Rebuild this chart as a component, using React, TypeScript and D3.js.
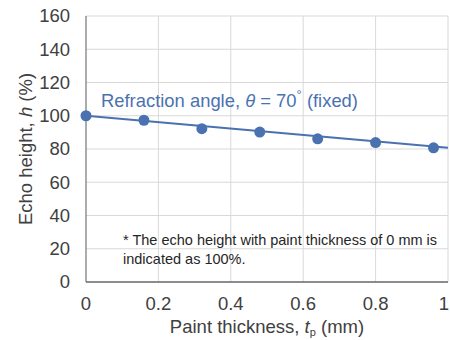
import React from "react";
import * as d3 from "d3";

// Paint thickness (mm) and relative echo height (%)
const thickness = [0, 0.16, 0.32, 0.48, 0.64, 0.8, 0.96];
const echoHeight = [100, 97.3, 92.2, 90.2, 86.1, 83.9, 80.7];
// Linear trend line endpoints (thickness, echo height)
const trendX = [0, 1];
const trendY = [100, 80.7];
const xTicks = [0, 0.2, 0.4, 0.6, 0.8, 1];
const yTicks = [0, 20, 40, 60, 80, 100, 120, 140, 160];

const W = 450;
const H = 340;
const margin = { left: 86, right: 2, top: 16, bottom: 58 };

const BLUE = "#4a72b0";
const FONT = "'Liberation Sans', Arial, sans-serif";
const FS = 18.5;

export default function App() {
  const x = d3.scaleLinear().domain([0, 1]).range([margin.left, W - margin.right]);
  const y = d3.scaleLinear().domain([0, 160]).range([H - margin.bottom, margin.top]);

  const line = d3
    .line<[number, number]>()
    .x((d) => x(d[0]))
    .y((d) => y(d[1]));
  const trend: [number, number][] = trendX.map((v, i) => [v, trendY[i]]);

  const x0 = x(0);
  const x1 = x(1);
  const y0 = y(0);
  const yTop = y(160);

  return (
    <svg
      width={W}
      height={H}
      style={{ position: "absolute", left: 0, top: 0, background: "#fff" }}
      fontFamily={FONT}
    >
      {/* gridlines */}
      {yTicks.filter((t) => t > 0).map((t) => (
        <line key={"gy" + t} x1={x0} x2={x1} y1={y(t)} y2={y(t)} stroke="#d9d9d9" strokeWidth={1} />
      ))}
      {xTicks.filter((t) => t > 0).map((t) => (
        <line key={"gx" + t} x1={x(t)} x2={x(t)} y1={yTop} y2={y0} stroke="#d9d9d9" strokeWidth={1} />
      ))}
      {/* axes */}
      <line x1={x0} x2={x0} y1={yTop} y2={y0} stroke="#7f7f7f" strokeWidth={1.3} />
      <line x1={x0} x2={x1} y1={y0} y2={y0} stroke="#666" strokeWidth={1.3} />

      {/* y tick labels */}
      {yTicks.map((t) => (
        <text key={"ty" + t} x={70} y={y(t)} dy="0.35em" textAnchor="end" fontSize={FS} fill="#404040">
          {t}
        </text>
      ))}
      {/* x tick labels; the last one is kept inside the frame */}
      {xTicks.map((t, i) => (
        <text
          key={"tx" + t}
          x={i === xTicks.length - 1 ? Math.min(x(t), W - 6) : x(t)}
          y={310}
          textAnchor="middle"
          fontSize={FS}
          fill="#404040"
        >
          {d3.format("~g")(t)}
        </text>
      ))}

      {/* axis titles */}
      <text x={(x0 + x1) / 2} y={333} textAnchor="middle" fontSize={FS} fill="#404040">
        Paint thickness, <tspan fontStyle="italic">t</tspan>
        <tspan fontSize={11} dy={3}>p</tspan>
        <tspan dy={-3}> (mm)</tspan>
      </text>
      <text
        transform={`translate(32,${(yTop + y0) / 2}) rotate(-90)`}
        textAnchor="middle"
        fontSize={FS}
        fill="#404040"
      >
        Echo height, <tspan fontStyle="italic">h</tspan> (%)
      </text>

      {/* trend line and measured points */}
      <path d={line(trend) ?? ""} fill="none" stroke={BLUE} strokeWidth={2} />
      {thickness.map((t, i) => (
        <circle key={"p" + i} cx={x(t)} cy={y(echoHeight[i])} r={5.5} fill={BLUE} />
      ))}

      {/* annotations */}
      <text x={101} y={107} fontSize={18.4} fill={BLUE}>
        Refraction angle, <tspan fontStyle="italic">θ</tspan> = 70
        <tspan fontSize={13} dy={-8}>°</tspan>
        <tspan dy={8}> (fixed)</tspan>
      </text>
      <text x={123} y={245} fontSize={14.5} fill="#262626">
        * The echo height with paint thickness of 0 mm is
      </text>
      <text x={123} y={264} fontSize={14.5} fill="#262626">
        indicated as 100%.
      </text>
    </svg>
  );
}
